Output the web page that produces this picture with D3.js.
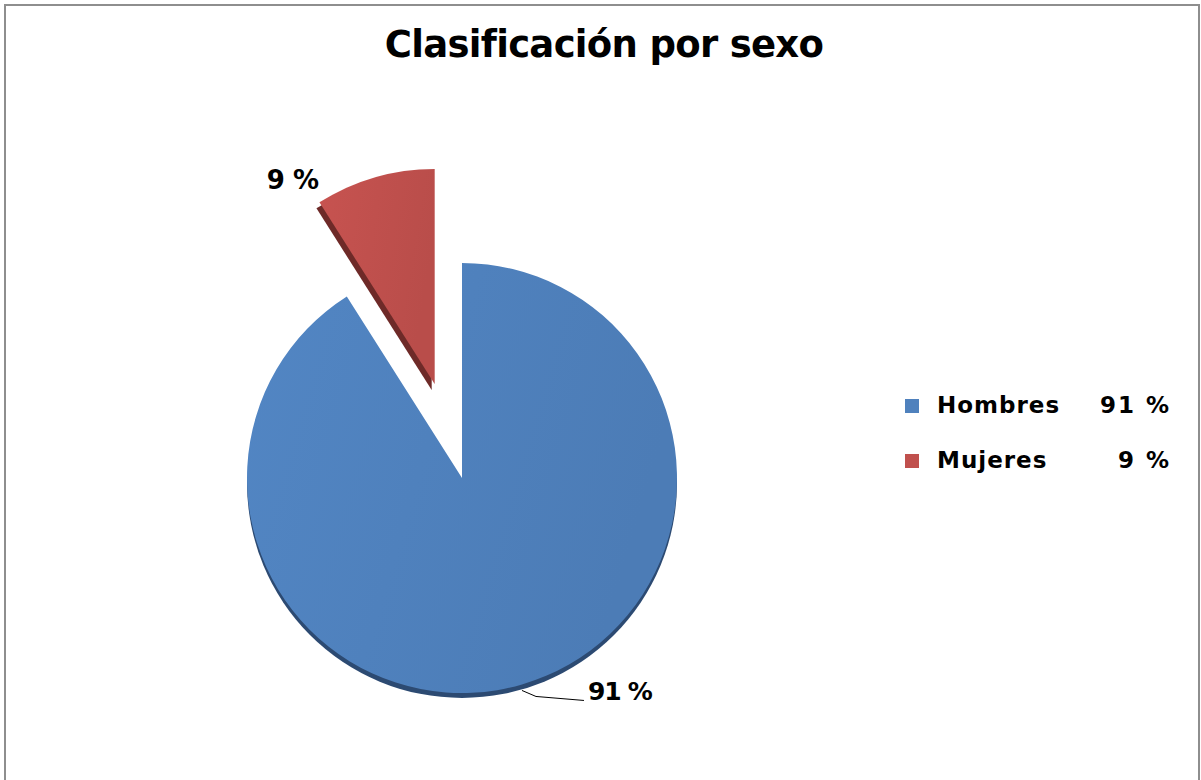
<!DOCTYPE html>
<html>
<head>
<meta charset="utf-8">
<script src="https://cdn.jsdelivr.net/npm/d3@7"></script>
<style>
    body { margin: 0; background: #fff; }
    text { font-family: "DejaVu Sans", sans-serif; font-weight: bold; fill: #000; }
</style>
</head>
<body>
<div id="chart"></div>
<script>
const title = 'Clasificación por sexo';
const categories = ['Hombres', 'Mujeres'];
const values = [91, 9];
const colors = ['#4f81bd', '#c0504d'];
const shades = ['#2c4a72', '#6e2a28'];

let width = 1201;
let height = 780;
let radius = 215;
let cx = 462;
let cy = 478;
let explode = 98;

let dataset = categories.map((name, i) => ({ name: name, value: values[i], color: colors[i], shade: shades[i] }));
let total = d3.sum(values);
let fmt = (v) => Math.round(v / total * 100) + ' %';

let svg = d3.select('#chart')
    .append('svg')
    .attr('width', width)
    .attr('height', height);

let defs = svg.append('defs');
dataset.forEach(function(d, i) {
    let g = defs.append('linearGradient')
        .attr('id', 'grad' + i)
        .attr('x1', '0%').attr('y1', '0%')
        .attr('x2', '100%').attr('y2', '30%');
    g.append('stop').attr('offset', '0%').attr('stop-color', d3.color(d.color).brighter(0.1));
    g.append('stop').attr('offset', '100%').attr('stop-color', d3.color(d.color).darker(0.1));
});
defs.append('clipPath')
    .attr('id', 'lower')
    .append('rect')
    .attr('x', -radius - 10)
    .attr('y', 0)
    .attr('width', radius * 2 + 20)
    .attr('height', radius + 20);

// chart frame
svg.append('rect')
    .attr('x', 5)
    .attr('y', 5)
    .attr('width', 1194)
    .attr('height', 820)
    .attr('fill', 'none')
    .attr('stroke', '#8e8e8e')
    .attr('stroke-width', 2);

svg.append('text')
    .attr('x', 604)
    .attr('y', 57)
    .attr('text-anchor', 'middle')
    .style('font-size', '37px')
    .style('letter-spacing', '-0.7px')
    .text(title);

let pie = d3.pie()
    .value(function(d) { return d.value; })
    .sort(null);

let arc = d3.arc()
    .innerRadius(0)
    .outerRadius(radius);

let arcs = pie(dataset);

let plot = svg.append('g')
    .attr('transform', 'translate(' + cx + ',' + cy + ')');

function offset(d) {
    if (d.index === 0) return [0, 0];
    let mid = (d.startAngle + d.endAngle) / 2;
    return [Math.sin(mid) * explode, -Math.cos(mid) * explode];
}

// bottom rim of the big slice
plot.append('g')
    .attr('clip-path', 'url(#lower)')
    .append('path')
    .attr('d', d3.arc().innerRadius(0).outerRadius(radius).startAngle(0).endAngle(Math.PI * 2)())
    .attr('transform', 'translate(0,5)')
    .attr('fill', shades[0]);

let slices = plot.selectAll('g.slice')
    .data(arcs)
    .enter()
    .append('g')
    .attr('class', 'slice')
    .attr('transform', function(d) { return 'translate(' + offset(d) + ')'; });

// side face of the exploded slice
slices.filter(function(d) { return d.index > 0; })
    .append('path')
    .attr('d', arc)
    .attr('transform', 'translate(-3,6)')
    .attr('fill', function(d) { return d.data.shade; });

slices.append('path')
    .attr('d', arc)
    .attr('fill', function(d, i) { return 'url(#grad' + i + ')'; });

// data labels
let big = arcs[0];
let bigMid = (big.startAngle + big.endAngle) / 2;
let p0 = [Math.sin(bigMid) * radius, -Math.cos(bigMid) * radius + 6];
let p1 = [p0[0] + 14, p0[1] + 6];
let p2 = [p0[0] + 62, p0[1] + 10];
plot.append('path')
    .attr('d', d3.line()([p0, p1, p2]))
    .attr('fill', 'none')
    .attr('stroke', '#000')
    .attr('stroke-width', 1);
plot.append('text')
    .attr('x', p2[0] + 4)
    .attr('y', p2[1])
    .style('font-size', '25px')
    .style('letter-spacing', '-1.2px')
    .text(fmt(big.value));

let small = arcs[1];
let so = offset(small);
let corner = [so[0] + Math.sin(small.startAngle) * radius, so[1] - Math.cos(small.startAngle) * radius];
plot.append('text')
    .attr('x', corner[0] - 1)
    .attr('y', corner[1] - 13)
    .attr('text-anchor', 'end')
    .style('font-size', '26px')
    .style('letter-spacing', '-0.5px')
    .text(fmt(small.value));

// legend
let legendRectSize = 14;
let legendSpacing = 55;
let legend = svg.selectAll('.legend')
    .data(dataset)
    .enter()
    .append('g')
    .attr('class', 'legend')
    .attr('transform', function(d, i) {
        return 'translate(905,' + (399 + i * legendSpacing) + ')';
    });

legend.append('rect')
    .attr('width', legendRectSize)
    .attr('height', legendRectSize)
    .attr('fill', function(d) { return d.color; });

legend.append('text')
    .attr('x', legendRectSize + 18)
    .attr('y', 14)
    .style('font-size', '23px')
    .style('letter-spacing', '1px')
    .text(function(d) { return d.name; });

legend.append('text')
    .attr('x', 266)
    .attr('y', 14)
    .attr('text-anchor', 'end')
    .style('font-size', '23px')
    .style('letter-spacing', '2px')
    .text(function(d) { return fmt(d.value); });
</script>
</body>
</html>
